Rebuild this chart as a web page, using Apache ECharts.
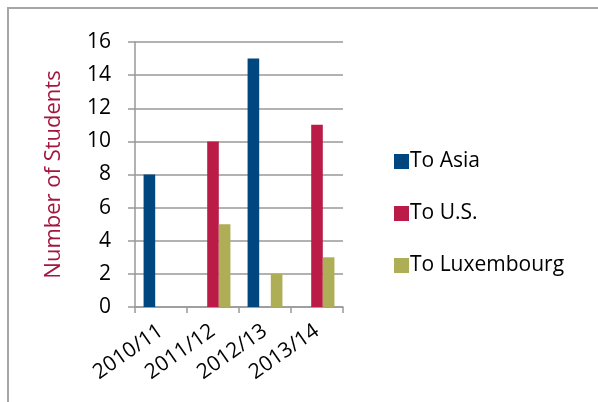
<!DOCTYPE html>
<html>
<head>
<meta charset="utf-8">
<script src="https://cdn.jsdelivr.net/npm/echarts@6/dist/echarts.min.js"></script>
<style>
  html, body { margin: 0; padding: 0; background: #fff; }
  #chart { width: 598px; height: 402px; }
</style>
</head>
<body>
<div id="chart"></div>
<script>
// Students going abroad per academic year, by destination
const years = ['2010/11', '2011/12', '2012/13', '2013/14'];
const toAsia = [8, 0, 15, 0];
const toUS = [0, 10, 0, 11];
const toLuxembourg = [0, 5, 2, 3];
const seriesNames = ['To Asia', 'To U.S.', 'To Luxembourg'];
const seriesColors = ['#00467f', '#bb1c47', '#adae55'];

const font = '"Open Sans", sans-serif';
const chart = echarts.init(document.getElementById('chart'));

function barSeries(name, values, color) {
  return {
    name: name,
    type: 'bar',
    data: values,
    barGap: '0%',
    barCategoryGap: '33%',
    itemStyle: { color: color },
    emphasis: { disabled: true }
  };
}

chart.setOption({
  animation: false,
  graphic: [{
    type: 'rect',
    shape: { x: 8, y: 8, width: 620, height: 420 },
    style: { fill: 'none', stroke: '#a6a6a6', lineWidth: 2 },
    silent: true
  }],
  grid: { left: 135, right: 255, top: 42, bottom: 95 },
  legend: {
    orient: 'vertical',
    left: 389,
    top: 146,
    itemWidth: 15,
    itemHeight: 15,
    itemGap: 31,
    icon: 'rect',
    data: seriesNames,
    textStyle: { fontFamily: font, fontSize: 21, color: '#000', padding: [0, 0, 0, -4] }
  },
  xAxis: {
    type: 'category',
    data: years,
    axisLine: { lineStyle: { color: '#999', width: 1.5 } },
    axisTick: { show: true, length: 6, lineStyle: { color: '#999', width: 1.5 } },
    axisLabel: { rotate: 35, margin: 22, fontFamily: font, fontSize: 21, color: '#000' }
  },
  yAxis: {
    type: 'value',
    min: 0,
    max: 16,
    interval: 2,
    name: 'Number of Students',
    nameLocation: 'middle',
    nameGap: 70,
    nameTextStyle: { fontFamily: font, fontSize: 22, color: '#a3173f' },
    axisLine: { show: true, lineStyle: { color: '#999', width: 1.5 } },
    axisTick: { show: true, length: 7, lineStyle: { color: '#999', width: 1.5 } },
    axisLabel: { margin: 24, fontFamily: font, fontSize: 21, color: '#000' },
    splitLine: { lineStyle: { color: '#999', width: 1.5 } }
  },
  series: [
    barSeries(seriesNames[0], toAsia, seriesColors[0]),
    barSeries(seriesNames[1], toUS, seriesColors[1]),
    barSeries(seriesNames[2], toLuxembourg, seriesColors[2])
  ]
});
</script>
</body>
</html>
